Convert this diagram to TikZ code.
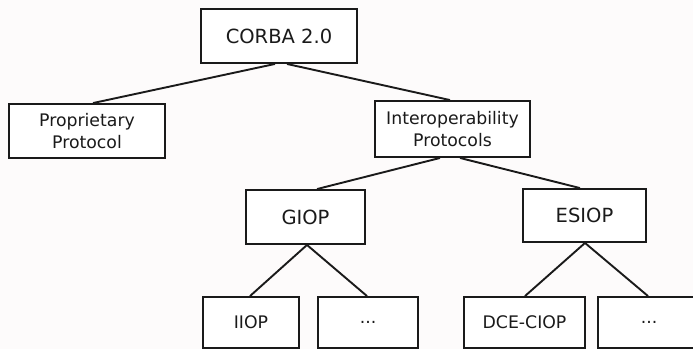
\documentclass[tikz,border=0pt]{standalone}
\usepackage{fontspec}
\setmainfont{DejaVu Sans}
\definecolor{ink}{HTML}{1A1A1A}
\definecolor{paper}{HTML}{FDFBFB}
\begin{document}
\begin{tikzpicture}[x=1pt,y=-1pt,
  box/.style={draw=ink, line width=1.9pt, fill=white, inner sep=0pt,
    align=center, text=ink},
  big/.style={font=\fontsize{19.5}{23}\selectfont},
  small/.style={font=\fontsize{17.3}{22}\selectfont},
  link/.style={draw=ink, line width=1.9pt}]
  % page background
  \fill[paper] (0,0) rectangle (693,349);
  \useasboundingbox (0,0) rectangle (693,349);

  % tree of protocols
  \node[box, big, minimum width=156pt, minimum height=54pt] (corba) at (279,36) {CORBA 2.0};
  \node[box, small, minimum width=156pt, minimum height=54pt] (prop) at (87,131) {Proprietary\\Protocol};
  \node[box, small, minimum width=155pt, minimum height=56pt] (inter) at (452.5,129) {Interoperability\\Protocols};
  \node[box, big, minimum width=119pt, minimum height=54pt] (giop) at (305.5,217) {GIOP};
  \node[box, big, minimum width=123pt, minimum height=53pt] (esiop) at (584.5,215.5) {ESIOP};
  \node[box, small, minimum width=96pt, minimum height=51pt] (iiop) at (251,322.5) {IIOP};
  \node[box, small, minimum width=100pt, minimum height=51pt] (more1) at (368,322.5) {...};
  \node[box, small, minimum width=121pt, minimum height=51pt] (dce) at (524.5,322.5) {DCE-CIOP};
  \node[box, small, minimum width=102pt, minimum height=51pt] (more2) at (649,322.5) {...};

  % connectors
  \draw[link] ([xshift=-4pt]corba.south) -- ([xshift=6pt]prop.north);
  \draw[link] ([xshift=8pt]corba.south) -- ([xshift=-2.5pt]inter.north);
  \draw[link] ([xshift=-12.5pt]inter.south) -- ([xshift=11.5pt]giop.north);
  \draw[link] ([xshift=7.5pt]inter.south) -- ([xshift=-4.5pt]esiop.north);
  \draw[link] ([xshift=1.5pt]giop.south) -- ([xshift=-1pt]iiop.north);
  \draw[link] ([xshift=1.5pt]giop.south) -- ([xshift=-1pt]more1.north);
  \draw[link] ([xshift=0.5pt]esiop.south) -- ([xshift=0.5pt]dce.north);
  \draw[link] ([xshift=0.5pt]esiop.south) -- ([xshift=-1pt]more2.north);
\end{tikzpicture}
\end{document}
